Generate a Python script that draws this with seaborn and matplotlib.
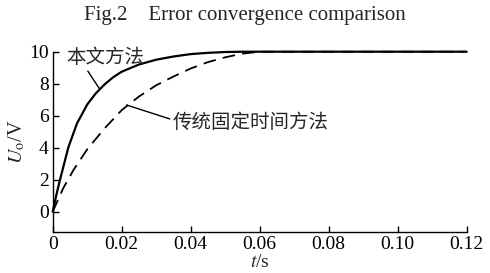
import matplotlib
matplotlib.use("Agg")
import matplotlib.pyplot as plt
import pandas as pd
import seaborn as sns

# ── Data ──────────────────────────────────────────────────────────────────────
t_ours = [0, 0.001, 0.002, 0.0045, 0.007, 0.01, 0.0125, 0.015, 0.0175, 0.02,
          0.025, 0.03, 0.035, 0.04, 0.045, 0.05, 0.055, 0.12]
u_ours = [0, 1.0, 1.9, 4.0, 5.5, 6.7, 7.4, 7.95, 8.4, 8.75,
          9.2, 9.5, 9.7, 9.85, 9.93, 9.98, 10, 10]

t_fixed = [0, 0.003, 0.006, 0.01, 0.015, 0.02, 0.025, 0.03, 0.035, 0.04,
           0.045, 0.05, 0.055, 0.06, 0.12]
u_fixed = [0, 1.45, 2.6, 3.9, 5.2, 6.35, 7.2, 7.9, 8.45, 8.95,
           9.35, 9.65, 9.88, 10, 10]

x_ticks = [0, 0.02, 0.04, 0.06, 0.08, 0.10, 0.12]
x_labels = ["0", "0.02", "0.04", "0.06", "0.08", "0.10", "0.12"]
y_ticks = [0, 2, 4, 6, 8, 10]

label_ours = "本文方法"
label_fixed = "传统固定时间方法"
title = "Fig.2    Error convergence comparison"

SERIF = ["Liberation Serif", "DejaVu Serif"]
CJK = ["Noto Sans CJK SC", "DejaVu Sans"]

sns.set_style("ticks")
plt.rcParams["font.family"] = SERIF
plt.rcParams["mathtext.fontset"] = "stix"

df_ours = pd.DataFrame({"t": t_ours, "u": u_ours})
df_fixed = pd.DataFrame({"t": t_fixed, "u": u_fixed})

fig = plt.figure(figsize=(4.9, 2.73), dpi=100)
ax = fig.add_axes([0.1076, 0.1513, 0.8448, 0.6593])

sns.lineplot(data=df_ours, x="t", y="u", ax=ax, color="black", lw=1.6,
             clip_on=False)
sns.lineplot(data=df_fixed, x="t", y="u", ax=ax, color="black", lw=1.3,
             clip_on=False)
ax.lines[-1].set_dashes([7, 4])

ax.set_xlim(0, 0.12)
ax.set_ylim(-1.25, 10)
ax.set_xticks(x_ticks)
ax.set_xticklabels(x_labels)
ax.set_yticks(y_ticks)
ax.tick_params(direction="in", length=4, width=1, labelsize=14, pad=3,
               colors="black")
for side in ("top", "right"):
    ax.spines[side].set_visible(False)
for side in ("left", "bottom"):
    ax.spines[side].set_linewidth(1.0)
    ax.spines[side].set_color("black")

ax.set_xlabel(r"$t$/s", fontsize=14, labelpad=1)
ax.set_ylabel(r"$U_{\mathrm{o}}$/V", fontsize=14.5, labelpad=1)

# annotations with leader lines
ax.annotate(label_ours, xy=(0.0135, 7.7), xytext=(0.0152, 9.65),
            ha="center", va="center", family=CJK, fontsize=14,
            arrowprops=dict(arrowstyle="-", color="black", lw=1.0,
                            shrinkA=0, shrinkB=0,
                            relpos=(0.25, 0.0)))
ax.annotate(label_fixed, xy=(0.0214, 6.67), xytext=(0.0575, 5.6),
            ha="center", va="center", family=CJK, fontsize=14,
            arrowprops=dict(arrowstyle="-", color="black", lw=1.0,
                            shrinkA=0, shrinkB=0,
                            relpos=(0.0, 0.6)))

fig.text(0.5, 0.945, title, ha="center", va="center", fontsize=15,
         family=SERIF)

fig.savefig("out.png", dpi=100)
